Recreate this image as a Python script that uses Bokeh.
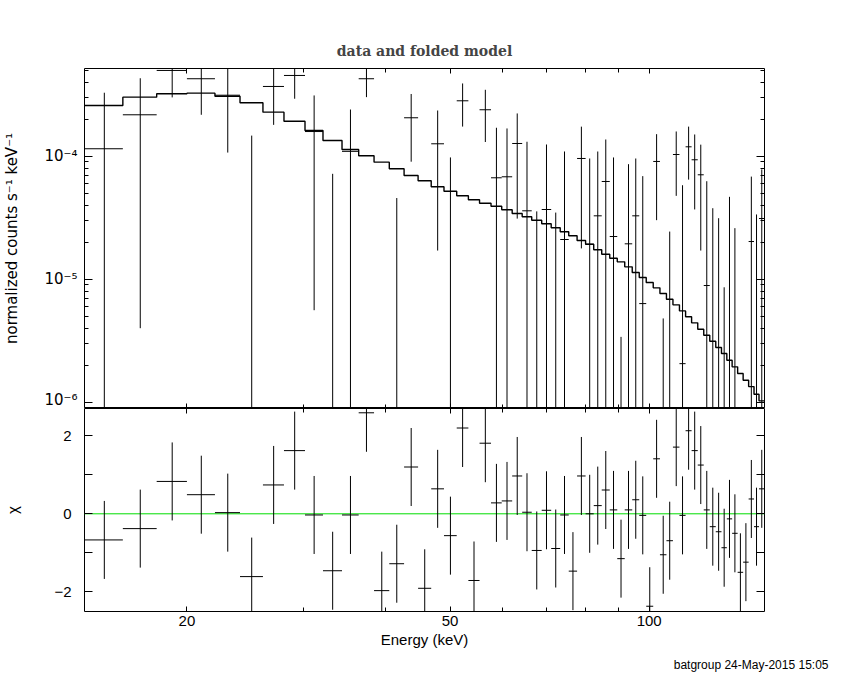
import numpy as np
from bokeh.plotting import figure
from bokeh.models import (Range1d, FixedTicker, LinearAxis, LogAxis, Title,
                          ColumnDataSource, CustomJSTickFormatter, Span)
from bokeh.layouts import column
from bokeh.embed import file_html
from bokeh.resources import INLINE

# ---------------- data ----------------
energy_edges = [14.0, 16.0, 18.0, 20.0, 22.05, 24.06, 26.06, 28.04, 30.17, 32.12,
                34.32, 36.37, 38.37, 40.46, 42.6, 44.73, 46.82, 48.95, 51.17, 53.29,
                55.40, 57.66, 59.85, 62.07, 64.27, 66.44, 68.79, 71.10, 73.37, 75.58,
                77.81, 80.15, 82.45, 84.78, 87.18, 89.49, 91.85, 94.28, 96.61, 98.99,
                101.43, 103.83, 106.21, 108.64, 111.13, 113.53, 115.93, 118.44, 120.94, 123.50,
                126.11, 128.64, 131.06, 133.50, 136.09, 138.72, 141.40, 144.07, 146.60, 149.43]

# normalized counts s^-1 keV^-1, in units of 1e-4
rate_e4 = [1.149, 2.17, 4.975, 4.26, 3.13, -0.57, 3.687, 4.53, 1.586, -0.635,
           1.095, 4.26, -1.47, -0.733, 2.052, -1.47, 1.261, -0.063, 2.82, -1.268,
           2.384, 0.6675, 0.680, 1.268, 0.3598, -0.544, 0.3687, -0.432, 0.2103, -1.024,
           0.958, 0.1926, 0.3276, 0.6227, 0.2224, -0.661, 0.194, 0.3276, 0.0634, -1.375,
           0.906, -0.522, -0.322, 1.032, 0.0206, 1.192, 0.935, 0.706, 0.0889, -0.1393,
           -0.2156, -0.381, -0.0446, -0.221, -0.703, -0.58, 0.2025, -0.148, 0.3115]

rate_err_e4 = [2.13, 2.13, 1.97, 2.09, 2.06, 2.04, 1.89, 1.60, 1.53, 1.354,
               1.30, 1.24, 1.20, 1.19, 1.15, 1.10, 1.09, 1.04, 1.08, 1.00,
               1.08, 1.035, 1.00, 0.957, 0.95, 0.90, 0.876, 0.78, 0.882, 0.85,
               0.78, 0.765, 0.764, 0.744, 0.754, 0.695, 0.667, 0.63, 0.625, 0.62,
               0.604, 0.57, 0.566, 0.556, 0.56, 0.547, 0.566, 0.535, 0.537, 0.517,
               0.529, 0.467, 0.512, 0.481, 0.48, 0.48, 0.48, 0.484, 0.47]

model_e4 = [2.584, 3.018, 3.216, 3.252, 3.074, 2.718, 2.279, 1.925, 1.618, 1.342,
            1.134, 1.008, 0.894, 0.790, 0.697, 0.632, 0.564, 0.519, 0.4765, 0.442,
            0.415, 0.392, 0.3666, 0.342, 0.3216, 0.3018, 0.2821, 0.2617, 0.2429, 0.2254,
            0.2064, 0.1926, 0.1734, 0.1597, 0.1482, 0.1385, 0.1261, 0.1133, 0.1032, 0.0940,
            0.0851, 0.0765, 0.0688, 0.0619, 0.0553, 0.0495, 0.0442, 0.0392, 0.03505, 0.0313,
            0.02784, 0.02488, 0.02195, 0.0194, 0.01711, 0.0151, 0.01341, 0.01161, 0.01027]

chi_values = [-0.67, -0.38, 0.83, 0.49, 0.03, -1.61, 0.74, 1.62, -0.03, -1.46,
              -0.03, 2.59, -1.97, -1.28, 1.20, -1.91, 0.64, -0.56, 2.20, -1.71,
              1.81, 0.28, 0.33, 0.97, 0.04, -0.94, 0.09, -0.89, -0.03, -1.47,
              0.97, 0.00, 0.21, 0.61, 0.10, -1.15, 0.10, 0.36, -0.04, -2.37,
              1.41, -1.05, -0.69, 1.71, -0.04, 2.13, 1.62, 1.25, 0.10, -0.33,
              -0.46, -0.87, -0.13, -0.50, -1.50, -1.24, 0.38, -0.33, 0.64]

y_ticks_top = [1e-6, 1e-5, 1e-4]
x_ticks = [20, 50, 100]
x_minor_ticks = [30, 40, 60, 70, 80, 90]

title_text = "data and folded model"
ylabel_top = "normalized counts s\u207b\u00b9 keV\u207b\u00b9"
ylabel_bot = "\u03c7"
xlabel = "Energy (keV)"
footer_text = "batgroup 24-May-2015 15:05"

# ---------------- derived arrays ----------------
edges = np.array(energy_edges)
e_lo, e_hi = edges[:-1], edges[1:]
e_mid = 0.5 * (e_lo + e_hi)
rate = np.array(rate_e4) * 1e-4
err = np.array(rate_err_e4) * 1e-4
model = np.array(model_e4) * 1e-4
chi = np.array(chi_values)

SANS = "Liberation Sans"
LBL = "15px"

xr = Range1d(14.0, 149.43)

x_ticker = FixedTicker(ticks=x_ticks, minor_ticks=x_minor_ticks)
y_minor = [m * 10.0 ** e for e in (-7, -6, -5, -4, -3) for m in range(2, 10)]
y_ticker_top = FixedTicker(ticks=y_ticks_top, minor_ticks=y_minor)
y_ticker_bot = FixedTicker(ticks=[-2, 0, 2], minor_ticks=[-1, 1])

blank_fmt = CustomJSTickFormatter(code="return '';")
x_fmt = CustomJSTickFormatter(code="return String(Math.round(tick));")
log_fmt = CustomJSTickFormatter(code="""
const e = Math.round(Math.log10(tick));
const m = {"0":"\u2070","1":"\u00b9","2":"\u00b2","3":"\u00b3","4":"\u2074",
           "5":"\u2075","6":"\u2076","7":"\u2077","8":"\u2078","9":"\u2079","-":"\u207b"};
return "10" + String(e).split("").map(c => m[c]).join("");
""")
lin_fmt = CustomJSTickFormatter(code="return tick < 0 ? '\u2212' + Math.abs(tick) : String(tick);")


def style(ax, major_in, minor_in, show_labels, fmt=None, standoff=5, font=SANS):
    ax.axis_line_color = None
    ax.major_tick_in = major_in
    ax.major_tick_out = 0
    ax.minor_tick_in = minor_in
    ax.minor_tick_out = 0
    ax.major_tick_line_color = "black"
    ax.minor_tick_line_color = "black"
    ax.major_tick_line_width = 1
    ax.minor_tick_line_width = 1
    if show_labels:
        ax.formatter = fmt
        ax.major_label_text_font = font
        ax.major_label_text_font_size = LBL
        ax.major_label_text_color = "black"
        ax.major_label_standoff = standoff
    else:
        ax.formatter = blank_fmt
        ax.major_label_text_font_size = "0px"
        ax.major_label_standoff = 0
    ax.axis_label_text_font = SANS
    ax.axis_label_text_font_size = LBL
    ax.axis_label_text_font_style = "normal"
    ax.axis_label_text_color = "black"


# ---------------- top panel ----------------
p1 = figure(frame_width=680, frame_height=340, x_axis_type="log", y_axis_type="log",
            x_range=xr, y_range=Range1d(8.9e-7, 5.16e-4),
            output_backend="svg", toolbar_location=None,
            min_border_left=82, min_border_right=72, min_border_top=68, min_border_bottom=0)
p1.grid.visible = False
p1.outline_line_color = "black"
p1.outline_line_width = 1
p1.background_fill_color = "white"
p1.border_fill_color = "white"

p1.title.text = title_text
p1.title.align = "center"
p1.title.text_font = "DejaVu Serif"
p1.title.text_font_size = "14px"
p1.title.text_font_style = "bold"
p1.title.standoff = 20

p1.xaxis.ticker = x_ticker
style(p1.xaxis[0], 5, 4, False)
p1.yaxis.ticker = y_ticker_top
style(p1.yaxis[0], 8, 4, True, log_fmt, 7, "DejaVu Sans")
p1.yaxis.axis_label = ylabel_top
p1.yaxis.axis_label_text_font = "DejaVu Sans"
p1.yaxis.axis_label_standoff = 20

ax_top = LogAxis(ticker=x_ticker)
style(ax_top, 5, 4, False)
p1.add_layout(ax_top, "above")
ax_right = LogAxis(ticker=y_ticker_top)
style(ax_right, 8, 4, False)
p1.add_layout(ax_right, "right")

# model histogram
p1.step(x=edges, y=np.append(model, model[-1]), mode="after",
        line_color="black", line_width=1.4)

# data crossbars (positive only are visible on a log axis)
pos = rate > 0
src_h = ColumnDataSource(dict(x0=e_lo[pos], x1=e_hi[pos], y=rate[pos]))
p1.segment(x0="x0", y0="y", x1="x1", y1="y", source=src_h, line_color="black", line_width=1)
upper = rate + err
lower = rate - err
vis = upper > 0
src_v = ColumnDataSource(dict(x=e_mid[vis], y0=np.where(lower[vis] > 0, lower[vis], 1e-9),
                              y1=upper[vis]))
p1.segment(x0="x", y0="y0", x1="x", y1="y1", source=src_v, line_color="black", line_width=1)

# ---------------- bottom panel ----------------
p2 = figure(frame_width=680, frame_height=203, x_axis_type="log",
            x_range=xr, y_range=Range1d(-2.505, 2.70),
            output_backend="svg", toolbar_location=None,
            min_border_left=82, min_border_right=72, min_border_top=0, min_border_bottom=68)
p2.grid.visible = False
p2.outline_line_color = "black"
p2.outline_line_width = 1
p2.background_fill_color = "white"
p2.border_fill_color = "white"

p2.xaxis.ticker = x_ticker
style(p2.xaxis[0], 5, 4, True, x_fmt, 4)
p2.xaxis.axis_label = xlabel
p2.xaxis.axis_label_standoff = 2
p2.yaxis.ticker = y_ticker_bot
style(p2.yaxis[0], 8, 8, True, lin_fmt, 13)
p2.yaxis.axis_label = ylabel_bot
p2.yaxis.axis_label_standoff = 30

ax_top2 = LogAxis(ticker=x_ticker)
style(ax_top2, 5, 4, False)
p2.add_layout(ax_top2, "above")
ax_right2 = LinearAxis(ticker=y_ticker_bot)
style(ax_right2, 8, 8, False)
p2.add_layout(ax_right2, "right")

p2.add_layout(Span(location=0, dimension="width", line_color="#00dd00",
                   line_width=1, level="underlay"))

src_ch = ColumnDataSource(dict(x0=e_lo, x1=e_hi, y=chi))
p2.segment(x0="x0", y0="y", x1="x1", y1="y", source=src_ch, line_color="black", line_width=1)
src_cv = ColumnDataSource(dict(x=e_mid, y0=chi - 1.0, y1=chi + 1.0))
p2.segment(x0="x", y0="y0", x1="x", y1="y1", source=src_cv, line_color="black", line_width=1)

footer = Title(text=footer_text, align="right", offset=-64, standoff=11,
               text_font=SANS, text_font_size="12px", text_font_style="normal",
               text_color="black")
p2.add_layout(footer, "below")

layout = column(p1, p2, spacing=0)
open("out.html", "w").write(file_html(layout, INLINE))
